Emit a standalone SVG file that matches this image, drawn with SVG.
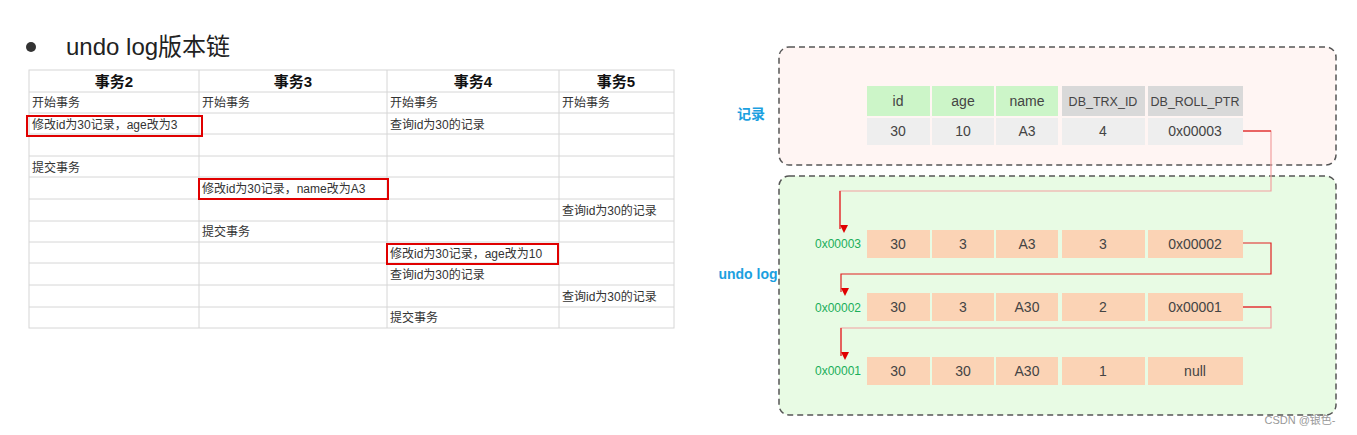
<svg xmlns="http://www.w3.org/2000/svg" width="1357" height="435" viewBox="0 0 1357 435">
<style>
text{font-family:"Liberation Sans","Noto Sans CJK SC",sans-serif;}
.c{font-size:12px;fill:#333}
.h{font-size:15px;font-weight:bold;text-anchor:middle;fill:#111}
.g{stroke:#d6d6d6;stroke-width:1}
.red{fill:none;stroke:#e00000;stroke-width:2}
.t{font-size:14px;text-anchor:middle;fill:#444}
.ts{font-size:12.5px;text-anchor:middle;fill:#444}
.ln{fill:none;stroke:#e02020;stroke-width:1.2}
.ln2{fill:none;stroke:#f2a0a0;stroke-width:1.2}
.lab{font-size:12px;fill:#1aae5a;text-anchor:middle}
</style>
<defs><marker id="a" viewBox="0 0 10 10" refX="5" refY="10" markerWidth="8" markerHeight="8" orient="auto-start-reverse" markerUnits="userSpaceOnUse"><path d="M0,0 L10,0 L5,10 Z" fill="#e00000" transform="rotate(-90 5 5)"/></marker></defs>
<rect width="1357" height="435" fill="#fff"/>
<g id="title"><circle cx="31" cy="47" r="5" fill="#333"/><text x="66" y="55" font-size="24" fill="#222">undo log版本链</text></g>
<g id="table">
<rect x="29" y="70" width="645" height="258" fill="none" class="g"/>
<g class="g">
<line x1="199" y1="70" x2="199" y2="328"/><line x1="387" y1="70" x2="387" y2="328"/><line x1="559" y1="70" x2="559" y2="328"/>
<line x1="29" y1="92" x2="674" y2="92"/><line x1="29" y1="113" x2="674" y2="113"/><line x1="29" y1="134" x2="674" y2="134"/><line x1="29" y1="156" x2="674" y2="156"/><line x1="29" y1="177" x2="674" y2="177"/><line x1="29" y1="199" x2="674" y2="199"/><line x1="29" y1="221" x2="674" y2="221"/><line x1="29" y1="242" x2="674" y2="242"/><line x1="29" y1="263" x2="674" y2="263"/><line x1="29" y1="285" x2="674" y2="285"/><line x1="29" y1="307" x2="674" y2="307"/>
</g>
<text class="h" x="114" y="87">事务2</text><text class="h" x="293" y="87">事务3</text><text class="h" x="473" y="87">事务4</text><text class="h" x="616" y="87">事务5</text>
<text class="c" x="32" y="107">开始事务</text><text class="c" x="202" y="107">开始事务</text><text class="c" x="390" y="107">开始事务</text><text class="c" x="562" y="107">开始事务</text>
<text class="c" x="32" y="129">修改id为30记录，age改为3</text><text class="c" x="390" y="129">查询id为30的记录</text>
<text class="c" x="32" y="172">提交事务</text>
<text class="c" x="202" y="193">修改id为30记录，name改为A3</text>
<text class="c" x="562" y="215">查询id为30的记录</text>
<text class="c" x="202" y="236">提交事务</text>
<text class="c" x="390" y="258">修改id为30记录，age改为10</text>
<text class="c" x="390" y="279">查询id为30的记录</text>
<text class="c" x="562" y="301">查询id为30的记录</text>
<text class="c" x="390" y="322">提交事务</text>
<rect class="red" x="27" y="116" width="175" height="20"/>
<rect class="red" x="199" y="179" width="189" height="20"/>
<rect class="red" x="387" y="244" width="171" height="20"/>
</g>
<g id="record-box">
<rect x="779" y="47" width="557" height="118" rx="10" fill="#fff5f3" stroke="#555" stroke-width="1.5" stroke-dasharray="6,4"/>
<text x="751" y="119" font-size="14" font-weight="bold" fill="#1ba0e0" text-anchor="middle">记录</text>
<g>
<rect x="867" y="86" width="63" height="30" fill="#ccf5c8"/><rect x="932" y="86" width="62" height="30" fill="#ccf5c8"/><rect x="996" y="86" width="62" height="30" fill="#ccf5c8"/><rect x="1062" y="86" width="83" height="30" fill="#d9d9d9"/><rect x="1148" y="86" width="95" height="30" fill="#d9d9d9"/>
<rect x="867" y="118" width="63" height="27" fill="#eeeeee"/><rect x="932" y="118" width="62" height="27" fill="#eeeeee"/><rect x="996" y="118" width="62" height="27" fill="#eeeeee"/><rect x="1062" y="118" width="83" height="27" fill="#eeeeee"/><rect x="1148" y="118" width="95" height="27" fill="#eeeeee"/>
<text class="t" x="898" y="106">id</text><text class="t" x="963" y="106">age</text><text class="t" x="1027" y="106">name</text><text class="ts" x="1103" y="106">DB_TRX_ID</text><text class="ts" x="1195" y="106">DB_ROLL_PTR</text>
<text class="t" x="898" y="136">30</text><text class="t" x="963" y="136">10</text><text class="t" x="1027" y="136">A3</text><text class="t" x="1103" y="136">4</text><text class="t" x="1195" y="136">0x00003</text>
</g>
</g>
<g id="undo-box">
<rect x="779" y="176" width="557" height="239" rx="10" fill="#e8fbe4" stroke="#555" stroke-width="1.5" stroke-dasharray="6,4"/>
<text x="748" y="279" font-size="14" font-weight="bold" fill="#1ba0e0" text-anchor="middle">undo log</text>
</g>
<g id="undo1">
<text class="lab" x="838" y="248">0x00003</text>
<rect x="867" y="230" width="63" height="28" fill="#fbd3b5"/><rect x="932" y="230" width="62" height="28" fill="#fbd3b5"/><rect x="996" y="230" width="62" height="28" fill="#fbd3b5"/><rect x="1062" y="230" width="83" height="28" fill="#fbd3b5"/><rect x="1148" y="230" width="95" height="28" fill="#fbd3b5"/>
<text class="t" x="898" y="249">30</text><text class="t" x="963" y="249">3</text><text class="t" x="1027" y="249">A3</text><text class="t" x="1103" y="249">3</text><text class="t" x="1195" y="249">0x00002</text>
</g>
<g id="undo2">
<text class="lab" x="838" y="312">0x00002</text>
<rect x="867" y="293" width="63" height="28" fill="#fbd3b5"/><rect x="932" y="293" width="62" height="28" fill="#fbd3b5"/><rect x="996" y="293" width="62" height="28" fill="#fbd3b5"/><rect x="1062" y="293" width="83" height="28" fill="#fbd3b5"/><rect x="1148" y="293" width="95" height="28" fill="#fbd3b5"/>
<text class="t" x="898" y="312">30</text><text class="t" x="963" y="312">3</text><text class="t" x="1027" y="312">A30</text><text class="t" x="1103" y="312">2</text><text class="t" x="1195" y="312">0x00001</text>
</g>
<g id="undo3">
<text class="lab" x="838" y="375">0x00001</text>
<rect x="867" y="357" width="63" height="28" fill="#fbd3b5"/><rect x="932" y="357" width="62" height="28" fill="#fbd3b5"/><rect x="996" y="357" width="62" height="28" fill="#fbd3b5"/><rect x="1062" y="357" width="83" height="28" fill="#fbd3b5"/><rect x="1148" y="357" width="95" height="28" fill="#fbd3b5"/>
<text class="t" x="898" y="376">30</text><text class="t" x="963" y="376">30</text><text class="t" x="1027" y="376">A30</text><text class="t" x="1103" y="376">1</text><text class="t" x="1195" y="376">null</text>
</g>
<g id="connectors">
<path class="ln2" d="M1243,131 H1271 V191 H840 V229" marker-end="url(#a)"/>
<path d="M1243,131 H1271" class="ln"/>
<path class="ln" d="M1243,243 H1271 V274 H841 V292" marker-end="url(#a)"/>
<path class="ln2" d="M1243,307 H1271 V328 H841 V356" marker-end="url(#a)"/>
<path d="M1243,307 H1271" class="ln"/><path d="M841,328 V356" class="ln"/><path d="M840,191 V229" class="ln"/>
</g>
<text x="1300" y="424" font-size="11" fill="#999" text-anchor="middle">CSDN @银色-</text>
</svg>
